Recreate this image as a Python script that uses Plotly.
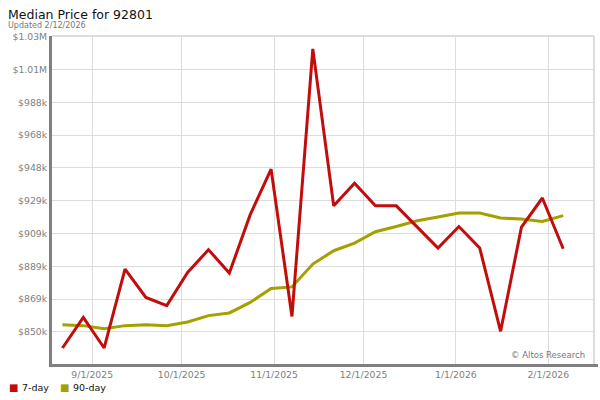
import plotly.graph_objects as go
import pandas as pd

# Weekly dates
dates = pd.date_range("2025-08-22", periods=25, freq="7D")

seven_day = [840400, 858700, 840400, 887700, 870700, 865800, 885700, 899300, 885300,
             920300, 947600, 859300, 1019700, 925600, 939200, 925600, 925600, 912900,
             900300, 913200, 900300, 850400, 912900, 930300, 899900]

ninety_day = [854400, 853800, 852000, 853800, 854400, 853800, 856000, 859800, 861400,
              867700, 876100, 877000, 890700, 898700, 903300, 910100, 913200, 916700,
              918900, 921300, 921300, 918300, 917700, 916200, 919700]

y_tick_vals = [850000 + i * 19667 for i in range(10)]
y_tick_text = ["$850k", "$869k", "$889k", "$909k", "$929k", "$948k", "$968k",
               "$988k", "$1.01M", "$1.03M"]

x_tick_vals = ["2025-09-01", "2025-10-01", "2025-11-01", "2025-12-01", "2026-01-01", "2026-02-01"]
x_tick_text = ["9/1/2025", "10/1/2025", "11/1/2025", "12/1/2025", "1/1/2026", "2/1/2026"]

RED = "#c20d0d"
OLIVE = "#a3a000"
FONT = "DejaVu Sans"
PW, PH = 542, 328

fig = go.Figure()
fig.add_trace(go.Scatter(x=dates, y=ninety_day, mode="lines", name="90-day",
                         line=dict(color=OLIVE, width=3), showlegend=False))
fig.add_trace(go.Scatter(x=dates, y=seven_day, mode="lines", name="7-day",
                         line=dict(color=RED, width=3), showlegend=False))

fig.update_layout(
    width=600, height=400,
    margin=dict(l=52, r=6, t=36, b=36, autoexpand=False),
    paper_bgcolor="white", plot_bgcolor="white",
    font=dict(family=FONT, size=9.3, color="#808080"),
    xaxis=dict(
        range=["2025-08-18 12:00", "2026-02-16 08:00"],
        tickvals=x_tick_vals, ticktext=x_tick_text,
        showgrid=True, gridcolor="#dddddd", gridwidth=1,
        showline=True, linecolor="#808080", linewidth=3,
        ticks="", tickfont=dict(size=9.3, color="#808080"),
        zeroline=False, automargin=False,
    ),
    yaxis=dict(
        range=[830800, 1027400],
        tickvals=y_tick_vals, ticktext=y_tick_text,
        showgrid=True, gridcolor="#dddddd", gridwidth=1,
        showline=True, linecolor="#808080", linewidth=3,
        ticks="", tickfont=dict(size=9.3, color="#808080"),
        zeroline=False, automargin=False,
    ),
    showlegend=False,
)

# right and top light borders
fig.add_shape(type="line", xref="paper", yref="paper", x0=1, x1=1, y0=0, y1=1,
              line=dict(color="#dddddd", width=2))
fig.add_shape(type="line", xref="paper", yref="paper", x0=0, x1=1, y0=1, y1=1,
              line=dict(color="#dddddd", width=2))
# bottom axis extension past the right border
fig.add_shape(type="line", xref="paper", yref="paper", x0=1, x1=1 + 4/PW,
              y0=-1.5/PH, y1=-1.5/PH, line=dict(color="#808080", width=3))

fig.add_annotation(text="Median Price for 92801", xref="paper", yref="paper",
                   x=-46/PW, y=1 + 31/PH, xanchor="left", yanchor="top",
                   showarrow=False, font=dict(family=FONT, size=12.5, color="#111111"))
fig.add_annotation(text="Updated 2/12/2026", xref="paper", yref="paper",
                   x=-46/PW, y=1 + 17/PH, xanchor="left", yanchor="top",
                   showarrow=False, font=dict(family=FONT, size=8, color="#777777"))
fig.add_annotation(text="© Altos Research", xref="paper", yref="paper",
                   x=(587 - 52)/PW, y=9/PH, xanchor="right", yanchor="middle",
                   showarrow=False, font=dict(family=FONT, size=8.5, color="#777777"))
# legend
LY = -23/PH
fig.add_annotation(text="■", xref="paper", yref="paper", x=-45/PW, y=LY,
                   xanchor="left", yanchor="middle", showarrow=False,
                   font=dict(family=FONT, size=10, color=RED))
fig.add_annotation(text="7-day", xref="paper", yref="paper", x=-32/PW, y=LY,
                   xanchor="left", yanchor="middle", showarrow=False,
                   font=dict(family=FONT, size=9.5, color="#111111"))
fig.add_annotation(text="■", xref="paper", yref="paper", x=6/PW, y=LY,
                   xanchor="left", yanchor="middle", showarrow=False,
                   font=dict(family=FONT, size=10, color=OLIVE))
fig.add_annotation(text="90-day", xref="paper", yref="paper", x=19/PW, y=LY,
                   xanchor="left", yanchor="middle", showarrow=False,
                   font=dict(family=FONT, size=9.5, color="#111111"))

fig.write_html("out.html", config={"displayModeBar": False},
               post_script="document.body.style.margin='0';document.body.style.overflow='hidden';")
